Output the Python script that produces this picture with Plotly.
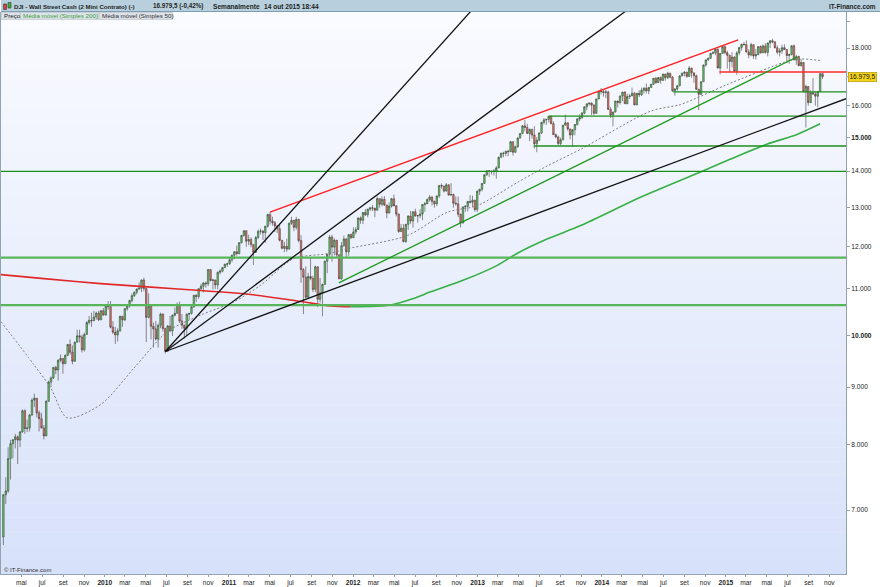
import math
import pandas as pd
import plotly.graph_objects as go

# ---------------- DATA ----------------
FIRST_WEEK = "2009-03-09"
FIRST_OPEN = 6626

close_2009 = [7223, 7278, 7776, 8018, 8083, 8131, 8076, 8212, 8575, 8268, 8277, 8500, 8764, 8799, 8539, 8438, 8280, 8146, 8743, 9093, 9171, 9370, 9321, 9506, 9544, 9441, 9605, 9820, 9665, 9488, 9865, 9996, 9972, 9713, 10023, 10270, 10318, 10309, 10388, 10471, 10329, 10520, 10428]
high_2009 = [7224, 7486, 7960, 8080, 8090, 8180, 8150, 8230, 8600, 8600, 8420, 8520, 8800, 8880, 8800, 8580, 8540, 8330, 8760, 9120, 9200, 9380, 9400, 9530, 9620, 9550, 9620, 9830, 9920, 9800, 9880, 10120, 10120, 10020, 10060, 10300, 10410, 10480, 10520, 10500, 10520, 10540, 10580]
low_2009 = [6517, 7086, 7250, 7450, 7780, 7940, 7690, 7960, 8200, 8180, 8210, 8220, 8490, 8640, 8460, 8220, 8270, 8087, 8140, 8740, 9000, 9150, 9240, 9120, 9470, 9250, 9440, 9590, 9620, 9430, 9480, 9860, 9860, 9660, 9680, 10020, 10230, 10180, 10300, 10330, 10300, 10320, 10420]

close_2010 = [10618, 10610, 10173, 10067, 10012, 10099, 10403, 10326, 10567, 10625, 10742, 10851, 10927, 10997, 11019, 11204, 11009, 10380, 10620, 10193, 10137, 9931, 10212, 10450, 10144, 9686, 10198, 10097, 10425, 10466, 10653, 10303, 10214, 10150, 10448, 10462, 10607, 10860, 10830, 11006, 11063, 11133, 11118, 11445, 11193, 11204, 11092, 11382, 11410, 11492, 11573, 11578]
high_2010 = [10650, 10730, 10730, 10300, 10180, 10150, 10410, 10410, 10570, 10650, 10760, 10900, 10940, 11010, 11150, 11210, 11258, 11030, 10900, 10630, 10270, 10300, 10250, 10480, 10460, 10160, 10220, 10410, 10440, 10590, 10700, 10720, 10450, 10230, 10460, 10480, 10620, 10870, 10880, 11020, 11120, 11160, 11170, 11450, 11450, 11230, 11210, 11400, 11450, 11500, 11580, 11610]
low_2010 = [10420, 10540, 10150, 10030, 9830, 9880, 10080, 10180, 10300, 10520, 10590, 10700, 10820, 10880, 10980, 10930, 10950, 9870, 10360, 9920, 9760, 9900, 9760, 10150, 10080, 9640, 9680, 10070, 9990, 10400, 10460, 10260, 10140, 9940, 10000, 10320, 10440, 10580, 10710, 10780, 10980, 10920, 11030, 11070, 11170, 10990, 11000, 10990, 11330, 11380, 11480, 11510]

close_2011 = [11675, 11787, 11871, 11824, 12092, 12273, 12391, 12130, 12170, 12044, 11859, 12221, 12376, 12380, 12341, 12505, 12810, 12638, 12596, 12512, 12441, 12151, 11952, 12004, 11934, 12582, 12657, 12479, 12681, 12143, 11444, 11269, 10817, 11284, 11240, 10992, 11509, 10771, 10913, 11103, 11644, 11809, 12231, 11983, 12153, 11796, 11231, 12019, 12184, 11867, 12294, 12218]
high_2011 = [11740, 11800, 11880, 12020, 12100, 12280, 12400, 12400, 12290, 12230, 12050, 12260, 12420, 12450, 12410, 12520, 12830, 12876, 12750, 12640, 12530, 12570, 12160, 12110, 12190, 12600, 12750, 12660, 12750, 12700, 12280, 11480, 11520, 11370, 11720, 11300, 11540, 11520, 11250, 11120, 11650, 11820, 12280, 12290, 12200, 12160, 11800, 12110, 12270, 12200, 12300, 12320]
low_2011 = [11560, 11620, 11690, 11780, 11810, 12070, 12240, 11990, 12030, 11980, 11555, 11840, 12180, 12300, 12160, 12090, 12470, 12550, 12520, 12360, 12330, 12120, 11930, 11860, 11870, 11930, 12540, 12380, 12420, 12100, 11140, 10450, 10790, 10780, 11200, 10930, 10930, 10600, 10700, 10404, 11100, 11360, 11710, 11630, 11780, 11730, 11220, 11210, 11990, 11730, 11770, 12180]

close_2012 = [12360, 12422, 12720, 12660, 12862, 12801, 12950, 12983, 12978, 12922, 13233, 13081, 13212, 13060, 12850, 13029, 13228, 13038, 12821, 12369, 12455, 12119, 12554, 12767, 12640, 12880, 12773, 12777, 12823, 13075, 13096, 13207, 13275, 13158, 13090, 13306, 13593, 13579, 13437, 13610, 13328, 13343, 13107, 13093, 12815, 12588, 13010, 13025, 13155, 13135, 13190, 12938]
high_2012 = [12480, 12480, 12730, 12760, 12870, 12950, 12960, 13010, 13060, 12980, 13290, 13240, 13290, 13300, 13060, 13130, 13250, 13340, 13060, 12830, 12560, 12560, 12560, 12790, 12900, 12890, 12960, 12800, 12950, 13080, 13140, 13240, 13330, 13290, 13180, 13310, 13600, 13650, 13580, 13660, 13620, 13660, 13370, 13290, 13290, 12830, 13020, 13060, 13170, 13330, 13310, 13200]
low_2012 = [12200, 12300, 12420, 12570, 12560, 12770, 12740, 12900, 12900, 12740, 12920, 12990, 13020, 13040, 12710, 12830, 12990, 13030, 12760, 12340, 12360, 12100, 12090, 12410, 12570, 12470, 12750, 12600, 12720, 12660, 12880, 13080, 13150, 13050, 12990, 13030, 13250, 13500, 13400, 13430, 13310, 13310, 12990, 13040, 12740, 12471, 12580, 12880, 12890, 13100, 13010, 12880]

close_2013 = [13435, 13488, 13650, 13896, 14009, 13993, 13982, 14000, 14090, 14397, 14515, 14512, 14579, 14565, 14865, 14548, 14713, 14974, 15118, 15354, 15303, 15116, 15248, 15070, 14800, 14910, 15136, 15464, 15544, 15559, 15658, 15425, 15081, 15010, 14810, 14922, 15376, 15451, 15258, 15072, 15237, 15399, 15570, 15615, 15761, 15962, 16064, 16086, 16020, 15755, 16221, 16478, 16470]
high_2013 = [13450, 13500, 13660, 13900, 14010, 14020, 14020, 14060, 14140, 14420, 14540, 14560, 14590, 14620, 14890, 14870, 14750, 15010, 15130, 15380, 15540, 15420, 15260, 15250, 15340, 15010, 15140, 15480, 15600, 15570, 15660, 15680, 15500, 15110, 15050, 14990, 15380, 15710, 15460, 15260, 15240, 15410, 15600, 15720, 15800, 15980, 16070, 16100, 16110, 16050, 16230, 16480, 16590]
low_2013 = [12880, 13330, 13430, 13640, 13860, 13830, 13900, 13870, 13780, 14080, 14390, 14400, 14430, 14430, 14560, 14450, 14530, 14680, 14970, 15100, 15180, 15110, 14880, 14960, 14660, 14550, 14880, 15100, 15400, 15380, 15460, 15400, 15070, 14970, 14760, 14760, 14910, 15370, 15200, 14940, 14720, 15060, 15360, 15500, 15570, 15720, 15850, 16000, 15700, 15700, 15740, 16220, 16370]

close_2014 = [16437, 16458, 15879, 15699, 15794, 16154, 16103, 16321, 16452, 16065, 16303, 16323, 16412, 16027, 16409, 16361, 16512, 16583, 16491, 16606, 16717, 16924, 16776, 16947, 16851, 17068, 16944, 17100, 16961, 16493, 16554, 16663, 17001, 17098, 17137, 16988, 17280, 17113, 17010, 16544, 16380, 16805, 17391, 17573, 17634, 17810, 17828, 17958, 17280, 17804, 18053, 17833]
high_2014 = [16530, 16530, 16500, 15960, 15800, 16160, 16170, 16340, 16460, 16480, 16400, 16380, 16600, 16460, 16430, 16520, 16600, 16620, 16740, 16630, 16730, 16930, 16970, 16960, 16980, 17080, 17070, 17150, 17110, 17000, 16590, 16700, 17030, 17120, 17160, 17140, 17350, 17290, 17120, 17050, 16560, 16810, 17400, 17580, 17650, 17830, 17890, 17990, 17990, 17810, 18100, 18100]
low_2014 = [16300, 16250, 15870, 15600, 15340, 15780, 15940, 16040, 16150, 16060, 16050, 16220, 16320, 16020, 16010, 16280, 16320, 16400, 16410, 16380, 16590, 16690, 16730, 16760, 16740, 16830, 16840, 16890, 16920, 16460, 16330, 16500, 16650, 17000, 16990, 16940, 16980, 16940, 16770, 16540, 15855, 16360, 16800, 17330, 17540, 17600, 17780, 17740, 17270, 17060, 17800, 17780]

close_2015 = [17737, 17511, 17672, 17165, 17824, 18019, 18140, 18133, 17856, 17749, 18128, 17713, 17763, 18057, 17826, 18080, 17841, 18191, 18272, 18232, 18011, 17849, 17899, 18016, 17947, 17730, 17760, 18086, 17569, 17690, 17373, 17477, 16460, 16643, 16102, 16433, 16385, 16315, 16472, 17084, 16980]
high_2015 = [17900, 17750, 17850, 17700, 17890, 18030, 18160, 18230, 18290, 17960, 18200, 18130, 17970, 18070, 18100, 18140, 18180, 18200, 18300, 18350, 18250, 18100, 18000, 18120, 18140, 17960, 17800, 18100, 18130, 17750, 17720, 17610, 17500, 16700, 16650, 16510, 16930, 16480, 16480, 17100, 17100]
low_2015 = [17260, 17140, 17300, 17130, 17040, 17740, 17910, 18080, 17840, 17630, 17700, 17600, 17580, 17740, 17800, 17820, 17800, 17700, 18000, 18180, 17990, 17770, 17700, 17790, 17930, 17460, 17430, 17740, 17560, 17400, 17330, 17320, 16450, 15300, 16000, 16090, 16370, 16000, 15950, 16470, 16900]

# moving averages (200-period: red while falling, green while rising)
ma200_down_dates = ["2009-03-02", "2009-07-06", "2009-12-20", "2010-05-17", "2010-10-10", "2011-03-06", "2011-07-31", "2011-10-27", "2011-12-25"]
ma200_down_values = [11328, 11236, 11122, 11042, 10964, 10875, 10722, 10625, 10608]
ma200_up_dates = ["2011-12-25", "2012-04-21", "2012-06-27", "2012-08-16", "2012-11-21", "2013-02-28", "2013-04-28", "2013-07-26", "2013-10-31", "2014-05-03", "2014-11-06", "2015-01-13", "2015-05-01", "2015-07-29", "2015-10-05"]
ma200_up_values = [10608, 10647, 10788, 10935, 11201, 11544, 11834, 12188, 12522, 13301, 14050, 14339, 14785, 15088, 15420]
ma50_dates = ["2009-03-02", "2009-06-07", "2009-07-26", "2009-09-13", "2009-12-20", "2010-03-28", "2010-07-04", "2010-10-10", "2011-01-16", "2011-04-04", "2011-07-10", "2011-10-18", "2011-12-15", "2012-06-09", "2012-10-04", "2012-12-31", "2013-04-28", "2013-07-25", "2013-10-31", "2014-05-25", "2014-08-21", "2015-01-05", "2015-06-20", "2015-07-29", "2015-10-05"]
ma50_values = [10289, 9420, 8986, 8453, 8685, 9357, 10082, 10428, 10716, 11084, 11703, 11822, 11943, 12271, 12869, 13043, 13678, 14148, 14637, 15825, 16042, 16708, 17481, 17602, 17552]

# drawn trend lines
fan_origin_date, fan_origin_price = "2010-06-28", 9680
fan_end_dates = ["2013-01-11", "2014-04-26", "2015-12-20"]
fan_end_prices = [19864, 19864, 16230]
resistance_dates = ["2011-05-02", "2015-02-06"]
resistance_prices = [12870, 18307]
channel_dates = ["2011-11-20", "2015-07-30"]
channel_prices = [11138, 17685]

# horizontal levels
thin_level_starts = ["2014-07-30", "2013-07-29", "2013-06-15", "2009-01-01"]
thin_level_values = [16458, 15664, 14737, 13990]
wide_level_starts = ["2009-01-01", "2009-01-01"]
wide_level_values = [11728, 10642]
red_level_start, red_level_value = "2014-12-13", 17142
LEVEL_END = "2016-03-01"

last_price = 16979.5
last_price_text = "16.979,5"
y_tick_values = [7000, 8000, 9000, 10000, 11000, 12000, 13000, 14000, 15000, 16000, 17000, 18000, 19000]
y_tick_labels = ["7.000", "8.000", "9.000", "<b>10.000</b>", "11.000", "12.000", "13.000", "14.000",
                 "<b>15.000</b>", "16.000", "", "18.000", ""]
month_labels = {3: "mar", 5: "mai", 7: "jul", 9: "set", 11: "nov"}

# ---------------- BUILD ----------------
closes = close_2009 + close_2010 + close_2011 + close_2012 + close_2013 + close_2014 + close_2015
highs = high_2009 + high_2010 + high_2011 + high_2012 + high_2013 + high_2014 + high_2015
lows = low_2009 + low_2010 + low_2011 + low_2012 + low_2013 + low_2014 + low_2015
weeks = pd.date_range(FIRST_WEEK, periods=len(closes), freq="7D")
opens = [FIRST_OPEN] + closes[:-1]   # weekly open = previous weekly close

x_tick_vals, x_tick_text = [], []
for yr in range(2009, 2016):
    for m in (1, 3, 5, 7, 9, 11):
        d = pd.Timestamp(yr, m, 1)
        if d < pd.Timestamp("2009-04-01") or d > pd.Timestamp("2015-12-01"):
            continue
        x_tick_vals.append(d)
        x_tick_text.append(f"<b>{yr}</b>" if m == 1 else month_labels[m])

W, H = 880, 587
ML, MR, MT, MB = 0, 34, 12, 10
PW, PH = W - ML - MR, H - MT - MB
FONT = "Liberation Sans, Arial, sans-serif"


def pxx(x):
    return (x - ML) / PW


def pxy(y):
    return 1 - (y - MT) / PH


fig = go.Figure()

fig.add_trace(go.Candlestick(
    x=weeks, open=opens, high=highs, low=lows, close=closes,
    increasing=dict(fillcolor="#5fcf5f", line=dict(color="#3c463c", width=0.6)),
    decreasing=dict(fillcolor="#f07462", line=dict(color="#463c3c", width=0.6)),
    whiskerwidth=0, showlegend=False, hoverinfo="skip"))

# moving averages
fig.add_trace(go.Scatter(x=ma50_dates, y=ma50_values, mode="lines",
                         line=dict(color="#7d7d7d", width=1, dash="2px,2px", shape="spline", smoothing=0.8),
                         showlegend=False))
fig.add_trace(go.Scatter(x=ma200_down_dates, y=ma200_down_values, mode="lines",
                         line=dict(color="#e02828", width=1.6, shape="spline"), showlegend=False))
fig.add_trace(go.Scatter(x=ma200_up_dates, y=ma200_up_values, mode="lines",
                         line=dict(color="#36b045", width=1.6, shape="spline", smoothing=0.8), showlegend=False))

# horizontal levels
for s, v in zip(wide_level_starts, wide_level_values):
    fig.add_trace(go.Scatter(x=[s, LEVEL_END], y=[v, v], mode="lines",
                             line=dict(color="#58b55a", width=2.2), showlegend=False))
for s, v in zip(thin_level_starts, thin_level_values):
    fig.add_trace(go.Scatter(x=[s, LEVEL_END], y=[v, v], mode="lines",
                             line=dict(color="#1b8f1b", width=1.4), showlegend=False))
fig.add_trace(go.Scatter(x=[red_level_start, LEVEL_END], y=[red_level_value, red_level_value], mode="lines",
                         line=dict(color="#ff2a2a", width=1.4), showlegend=False))

# trend lines
fig.add_trace(go.Scatter(x=channel_dates, y=channel_prices, mode="lines",
                         line=dict(color="#1e9a1e", width=1.3), showlegend=False))
fig.add_trace(go.Scatter(x=resistance_dates, y=resistance_prices, mode="lines",
                         line=dict(color="#ff1e1e", width=1.4), showlegend=False))
for d, p in zip(fan_end_dates, fan_end_prices):
    fig.add_trace(go.Scatter(x=[fan_origin_date, d], y=[fan_origin_price, p], mode="lines",
                             line=dict(color="#141414", width=1.3), showlegend=False))

# ---------- decoration ----------
shapes = []
N = 40
top = (250, 251, 255)
bot = (215, 225, 249)
for i in range(N):
    t = (i + 0.5) / N
    c = tuple(round(bot[k] + (top[k] - bot[k]) * t) for k in range(3))
    shapes.append(dict(type="rect", xref="paper", yref="paper", x0=0, x1=1, y0=i / N, y1=(i + 1) / N,
                       fillcolor=f"rgb{c}", line=dict(width=0), layer="below"))
shapes.append(dict(type="rect", xref="paper", yref="paper", x0=pxx(0), x1=pxx(W), y0=pxy(12), y1=pxy(0),
                   fillcolor="#b8d0dd", line=dict(width=0), layer="above"))
shapes.append(dict(type="line", xref="paper", yref="paper", x0=pxx(0), x1=pxx(W), y0=pxy(11.5), y1=pxy(11.5),
                   line=dict(color="#7f9db0", width=1), layer="above"))
shapes.append(dict(type="rect", xref="paper", yref="paper", x0=pxx(2.5), x1=pxx(5.5), y0=pxy(9.5), y1=pxy(4),
                   fillcolor="#e0403a", line=dict(color="#303030", width=0.6), layer="above"))
shapes.append(dict(type="rect", xref="paper", yref="paper", x0=pxx(7), x1=pxx(10), y0=pxy(8), y1=pxy(2.5),
                   fillcolor="#3cb43c", line=dict(color="#303030", width=0.6), layer="above"))
for x0, x1 in [(0, 19), (19.5, 97.5), (98, 172)]:
    shapes.append(dict(type="rect", xref="paper", yref="paper", x0=pxx(x0), x1=pxx(x1), y0=pxy(19.5), y1=pxy(12.5),
                       fillcolor="#dde2e8", line=dict(color="#b4bcc5", width=0.6), layer="above"))

annotations = []


def note(text, x, y, size=6.4, color="#1e1e1e", xanchor="left", bold=False, **kw):
    annotations.append(dict(text=f"<b>{text}</b>" if bold else text, x=pxx(x), y=pxy(y), xref="paper",
                            yref="paper", xanchor=xanchor, yanchor="middle", showarrow=False,
                            font=dict(family=FONT, size=size, color=color), **kw))


note("DJI - Wall Street Cash (2 Mini Contrato) (-)", 11, 6, size=6.1, bold=True)
note("16.979,5 (-0,42%)", 150, 6, size=6.3, bold=True)
note("Semanalmente", 210, 6, size=6.6, bold=True)
note("14 out 2015 18:44", 261, 6, size=6.6, bold=True)
note("IT-Finance.com", 878, 6, xanchor="right", bold=True)
note("Preço", 1, 16, size=6.2, color="#202020")
note("Média móvel (Simples 200)", 20, 16, size=6.2, color="#3a9d3a")
note("Média móvel (Simples 50)", 99, 16, size=6.2, color="#303030")
note("© IT-Finance.com", 1, 573, size=6, color="#303030")

annotations.append(dict(text=last_price_text, x=1, xref="paper", xanchor="left", xshift=2,
                        y=math.log10(last_price), yref="y", yanchor="middle", showarrow=False,
                        bgcolor="#f3d31a", bordercolor="#a88f00", borderwidth=0.6, borderpad=0.8,
                        font=dict(family=FONT, size=6.6, color="#202020")))

fig.update_layout(
    width=W, height=H,
    margin=dict(l=ML, r=MR, t=MT, b=MB, pad=0),
    paper_bgcolor="#ffffff", plot_bgcolor="#eef2fc",
    showlegend=False, boxgap=0.12,
    shapes=shapes, annotations=annotations,
    font=dict(family=FONT, size=6.6, color="#222"),
    xaxis=dict(type="date", range=["2009-03-02", "2015-12-20"], tickvals=x_tick_vals, ticktext=x_tick_text,
               ticks="outside", ticklen=2, tickcolor="#8fa3b3", tickfont=dict(size=6.6, color="#222"),
               showgrid=False, zeroline=False, showline=True, linecolor="#8fa3b3", linewidth=1,
               rangeslider=dict(visible=False), fixedrange=True),
    yaxis=dict(type="log", side="right", range=[3.78830, 4.28733], tickvals=y_tick_values, ticktext=y_tick_labels,
               ticks="outside", ticklen=3, tickcolor="#8fa3b3", tickfont=dict(size=6.6, color="#222"),
               showgrid=False, zeroline=False, showline=True, linecolor="#8fa3b3", linewidth=1, mirror=True,
               fixedrange=True),
)

fig.write_html("out.html", config={"displayModeBar": False},
               post_script="document.body.style.margin='0';document.body.style.overflow='hidden';")
